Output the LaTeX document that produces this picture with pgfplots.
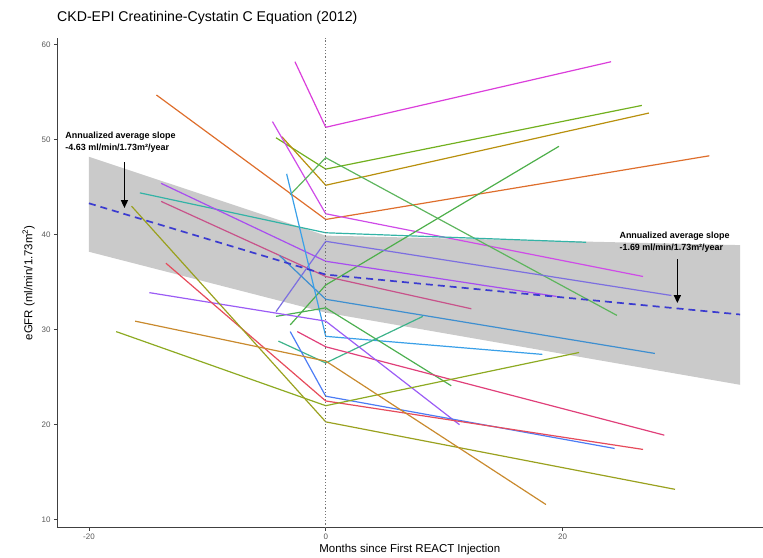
\documentclass[border=0pt]{standalone}
\usepackage{fontspec}
\setmainfont{Liberation Sans}
\usepackage{pgfplots}
\pgfplotsset{compat=1.18}
\usetikzlibrary{arrows.meta}

% patient colours (ggplot-like hues)
\definecolor{cA}{HTML}{DB3EDB}
\definecolor{cB}{HTML}{DE6E2C}
\definecolor{cC}{HTML}{72B01F}
\definecolor{cD}{HTML}{B8900E}
\definecolor{cE}{HTML}{CF4BE8}
\definecolor{cF}{HTML}{5DB55D}
\definecolor{cG}{HTML}{4DAF4A}
\definecolor{cH}{HTML}{33B3A6}
\definecolor{cI}{HTML}{A84DF0}
\definecolor{cJ}{HTML}{C8528A}
\definecolor{cK}{HTML}{7C6FE0}
\definecolor{cL}{HTML}{3E8FD0}
\definecolor{cM}{HTML}{3AA0E8}
\definecolor{cN}{HTML}{4CAF50}
\definecolor{cO}{HTML}{3DB38A}
\definecolor{cP}{HTML}{E0407A}
\definecolor{cQ}{HTML}{9B5CF5}
\definecolor{cR}{HTML}{4C7CF5}
\definecolor{cS}{HTML}{E64B5B}
\definecolor{cT}{HTML}{8DAA22}
\definecolor{cU}{HTML}{9AA11F}
\definecolor{cV}{HTML}{C98A2E}
\definecolor{ribbon}{HTML}{CACACA}
\definecolor{fitblue}{HTML}{3B3BD0}

\begin{document}
\begin{tikzpicture}
\begin{axis}[
  name=ax,
  scale only axis,
  width=706bp, height=490bp,
  xmin=-22.7, xmax=36.9,
  ymin=9.16, ymax=60.7,
  axis lines*=left,
  axis line style={black!75, line width=0.8bp},
  tick align=outside,
  major tick length=3bp,
  tick style={black!75, line width=0.6bp},
  xtick={-20,0,20},
  ytick={10,20,30,40,50,60},
  /pgf/number format/assume math mode=true,
  tick label style={font=\fontsize{8}{9}\selectfont, text=black!65},
  xlabel={Months since First REACT Injection},
  ylabel={eGFR (ml/min/1.73m\textsuperscript{2})},
  label style={font=\fontsize{11.5}{13}\selectfont},
  xlabel style={yshift=3bp},
  ylabel style={yshift=0bp},
  every axis plot/.append style={line width=1.2bp},
  clip=false,
]
% confidence band of the piecewise fit
\addplot[draw=none, fill=ribbon] coordinates {
  (-20,48.2) (0,39.9) (35,38.9) (35,24.2) (0,31.8) (-20,38.2)} -- cycle;

% individual patients: (pre, 0, post)
\addplot[cA] coordinates {(-2.6,58.2) (0,51.3) (24.1,58.2)};
\addplot[cB] coordinates {(-14.3,54.7) (0,41.6) (32.4,48.3)};
\addplot[cC] coordinates {(-4.2,50.2) (0,46.9) (26.7,53.6)};
\addplot[cD] coordinates {(-3.7,50.3) (0,45.2) (27.3,52.8)};
\addplot[cE] coordinates {(-4.5,51.9) (0,42.2) (26.8,35.6)};
\addplot[cF] coordinates {(-3.0,44.2) (0,48.1) (24.6,31.5)};
\addplot[cG] coordinates {(-3.0,30.5) (0,34.7) (19.7,49.3)};
\addplot[cH] coordinates {(-15.7,44.4) (0,40.2) (22.0,39.2)};
\addplot[cI] coordinates {(-13.9,45.4) (0,37.2) (19.5,33.5)};
\addplot[cJ] coordinates {(-13.9,43.5) (0,35.6) (12.3,32.2)};
\addplot[cK] coordinates {(-4.2,31.9) (0,39.3) (29.2,33.6)};
\addplot[cL] coordinates {(-3.9,37.8) (0,33.2) (27.8,27.5)};
\addplot[cM] coordinates {(-3.3,46.4) (0,29.3) (18.3,27.4)};
\addplot[cN] coordinates {(-4.2,31.4) (0,32.3) (10.6,24.1)};
\addplot[cO] coordinates {(-4.0,28.8) (0,26.5) (8.2,31.4)};
\addplot[cP] coordinates {(-2.4,29.8) (0,28.2) (28.6,18.9)};
\addplot[cQ] coordinates {(-14.9,33.9) (0,30.9) (11.3,20.0)};
\addplot[cR] coordinates {(-3.0,29.8) (0,23.0) (24.4,17.5)};
\addplot[cS] coordinates {(-13.5,37.0) (0,22.5) (26.8,17.4)};
\addplot[cT] coordinates {(-17.7,29.8) (0,22.0) (21.4,27.6)};
\addplot[cU] coordinates {(-16.4,43.0) (0,20.3) (29.5,13.2)};
\addplot[cV] coordinates {(-16.1,30.9) (0,26.7) (18.6,11.6)};

% average fit
\addplot[fitblue, line width=1.7bp, dash pattern=on 7bp off 5bp] coordinates {
  (-20,43.3) (0,35.8) (35,31.6)};

% injection time
\addplot[black!55, line width=0.8bp, dash pattern=on 1.2bp off 2bp] coordinates {(0,9.16) (0,60.7)};

% annotations
\node[anchor=west, align=left, inner sep=0pt, font=\bfseries\fontsize{9}{11.5}\selectfont]
  at (axis cs:-22.0,49.75) {Annualized average slope\\-4.63 ml/min/1.73m²/year};
\draw[-{Triangle[length=8bp,width=7bp]}, line width=1.4bp]
  (axis cs:-17,47.6) -- (axis cs:-17,42.8);
\node[anchor=west, align=left, inner sep=0pt, font=\bfseries\fontsize{9}{11.5}\selectfont]
  at (axis cs:24.8,39.2) {Annualized average slope\\-1.69 ml/min/1.73m²/year};
\draw[-{Triangle[length=8bp,width=7bp]}, line width=1.4bp]
  (axis cs:29.7,37.4) -- (axis cs:29.7,32.8);
\end{axis}
\node[anchor=base west, inner sep=0pt, font=\fontsize{14.2}{16}\selectfont]
  at ([yshift=16bp]ax.north west) {CKD-EPI Creatinine-Cystatin C Equation (2012)};
\path ([xshift=-57bp,yshift=-29bp]ax.south west) rectangle ([yshift=38bp]ax.north east);
\end{tikzpicture}
\end{document}
